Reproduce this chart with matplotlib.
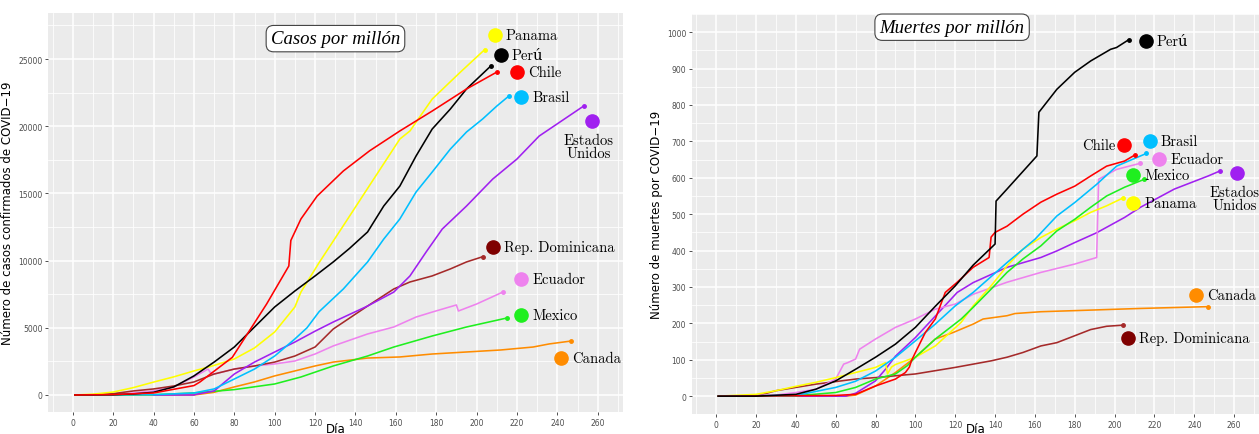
import matplotlib
matplotlib.use("Agg")
import matplotlib.pyplot as plt
import numpy as np

# ---- casos por millon (panel izquierdo) ----
chile_c_dia = [1, 20, 40, 60, 63, 79, 96, 107, 108, 113, 121, 134, 147, 162, 178, 195, 210]
chile_c = [0, 30, 150, 700, 970, 2800, 6770, 9600, 11500, 13100, 14800, 16670, 18170, 19650, 21130, 22770, 24030]
panama_c_dia = [1, 10, 20, 30, 40, 50, 60, 70, 80, 90, 100, 110, 113, 122, 134, 147, 162, 167, 178, 192, 204]
panama_c = [0, 60, 220, 550, 960, 1350, 1790, 2200, 2680, 3500, 4690, 6550, 7660, 9850, 12600, 15600, 19050, 19650, 22020, 24030, 25700]
peru_c_dia = [1, 20, 30, 40, 50, 60, 70, 80, 90, 100, 110, 120, 129, 137, 146, 154, 162, 170, 178, 187, 195, 207]
peru_c = [0, 20, 80, 200, 600, 1420, 2450, 3570, 5060, 6550, 7740, 8860, 9900, 10900, 12130, 14060, 15550, 17780, 19790, 21280, 22770, 24480]
brasil_c_dia = [1, 40, 60, 70, 80, 90, 100, 110, 116, 122, 134, 146, 154, 162, 170, 178, 187, 195, 203, 210, 216]
brasil_c = [0, 20, 150, 450, 1190, 1930, 2900, 4170, 5000, 6200, 7890, 9900, 11600, 13100, 15100, 16590, 18300, 19570, 20540, 21500, 22250]
eeuu_c_dia = [40, 60, 61, 70, 80, 90, 100, 110, 120, 129, 146, 159, 167, 175, 183, 195, 208, 220, 231, 253]
eeuu_c = [0, 0, 50, 300, 1560, 2450, 3200, 3940, 4750, 5430, 6620, 7660, 8860, 10640, 12350, 14060, 16070, 17560, 19270, 21500]
repdom_c_dia = [1, 10, 20, 30, 40, 50, 60, 70, 80, 90, 100, 110, 120, 129, 146, 159, 167, 178, 187, 195, 203]
repdom_c = [0, 20, 100, 300, 450, 670, 970, 1560, 1930, 2160, 2450, 2900, 3570, 4910, 6620, 7890, 8410, 8860, 9380, 9900, 10290]
ecuador_c_dia = [1, 20, 30, 40, 50, 60, 67, 68, 70, 80, 90, 100, 110, 120, 129, 146, 159, 170, 178, 190, 191, 200, 213]
ecuador_c = [0, 50, 150, 300, 600, 1340, 1930, 1700, 1560, 1930, 2160, 2310, 2530, 3050, 3650, 4540, 5060, 5800, 6170, 6700, 6250, 6770, 7660]
mexico_c_dia = [1, 40, 60, 80, 100, 113, 129, 146, 159, 178, 195, 215]
mexico_c = [0, 20, 150, 400, 820, 1340, 2160, 2900, 3570, 4390, 5060, 5730]
canada_c_dia = [1, 60, 70, 80, 90, 100, 110, 120, 129, 146, 162, 178, 195, 212, 228, 236, 247]
canada_c = [0, 0, 200, 600, 970, 1420, 1790, 2160, 2450, 2750, 2830, 3050, 3200, 3350, 3570, 3800, 4020]

# ---- muertes por millon (panel derecho) ----
peru_m_dia = [1, 20, 40, 50, 60, 70, 80, 90, 100, 110, 120, 129, 140, 140.5, 146, 161, 162, 171, 180, 188, 198, 201, 207]
peru_m = [0, 0, 5, 19, 42, 74, 107, 143, 189, 247, 303, 360, 418, 536, 569, 660, 780, 843, 890, 921, 953, 958, 979]
chile_m_dia = [1, 60, 70, 80, 90, 95, 97, 98, 100, 105, 110, 115, 121, 129, 137, 138, 140, 146, 154, 163, 171, 180, 188, 196, 205, 210]
chile_m = [0, 2, 5, 28, 47, 65, 80, 97, 120, 175, 212, 285, 313, 354, 381, 437, 450, 467, 500, 533, 555, 577, 605, 632, 646, 662]
brasil_m_dia = [1, 40, 60, 70, 80, 90, 100, 110, 120, 129, 146, 160, 171, 180, 191, 201, 216]
brasil_m = [0, 2, 24, 41, 69, 107, 152, 198, 248, 285, 367, 431, 495, 532, 582, 632, 667]
ecuador_m_dia = [1, 30, 40, 50, 60, 64, 66, 70, 72, 80, 90, 100, 110, 120, 129, 146, 163, 180, 191, 192, 201, 213]
ecuador_m = [0, 3, 10, 19, 47, 88, 92, 102, 129, 157, 189, 212, 239, 253, 280, 313, 340, 363, 381, 596, 623, 640]
mexico_m_dia = [1, 40, 60, 70, 80, 90, 96, 100, 110, 123, 129, 138, 146, 154, 163, 171, 180, 188, 196, 205, 215]
mexico_m = [0, 1, 10, 24, 47, 61, 84, 107, 157, 212, 244, 294, 340, 377, 413, 454, 486, 519, 550, 574, 596]
panama_m_dia = [1, 20, 30, 40, 50, 60, 70, 80, 85, 86, 88, 90, 100, 110, 123, 129, 138, 146, 154, 163, 171, 180, 188, 196, 204]
panama_m = [0, 5, 15, 27, 38, 51, 65, 79, 92, 61, 80, 87, 107, 138, 203, 248, 303, 358, 404, 436, 459, 482, 505, 523, 544]
eeuu_m_dia = [1, 65, 70, 80, 85, 90, 100, 110, 121, 129, 146, 163, 171, 180, 191, 205, 213, 230, 247, 253]
eeuu_m = [0, 0, 8, 42, 74, 110, 161, 220, 285, 312, 354, 381, 399, 422, 449, 491, 519, 569, 605, 619]
canada_m_dia = [1, 65, 70, 80, 90, 100, 110, 119, 129, 134, 146, 150, 163, 180, 213, 247]
canada_m = [0, 0, 3, 28, 65, 107, 157, 175, 198, 212, 221, 227, 232, 235, 241, 246]
repdom_m_dia = [1, 20, 30, 40, 50, 60, 70, 80, 90, 100, 110, 120, 129, 138, 146, 154, 163, 171, 180, 188, 196, 204]
repdom_m = [0, 0, 15, 24, 33, 40, 47, 51, 56, 61, 70, 79, 88, 97, 107, 120, 138, 147, 166, 183, 192, 195]

colores = {"Panama": "#FFFF00", "Perú": "#000000", "Chile": "#FF0000", "Brasil": "#00BFFF",
           "Estados\nUnidos": "#A020F0", "Rep. Dominicana": "#A52A2A", "Ecuador": "#EE82EE",
           "Mexico": "#1FEF1F", "Canada": "#FF8C00"}
color_punto = dict(colores, **{"Rep. Dominicana": "#7F0000"})

casos = [("Canada", canada_c_dia, canada_c), ("Mexico", mexico_c_dia, mexico_c),
         ("Ecuador", ecuador_c_dia, ecuador_c), ("Rep. Dominicana", repdom_c_dia, repdom_c),
         ("Estados\nUnidos", eeuu_c_dia, eeuu_c), ("Brasil", brasil_c_dia, brasil_c),
         ("Panama", panama_c_dia, panama_c), ("Perú", peru_c_dia, peru_c),
         ("Chile", chile_c_dia, chile_c)]
muertes = [("Canada", canada_m_dia, canada_m), ("Rep. Dominicana", repdom_m_dia, repdom_m),
           ("Estados\nUnidos", eeuu_m_dia, eeuu_m), ("Ecuador", ecuador_m_dia, ecuador_m),
           ("Panama", panama_m_dia, panama_m), ("Mexico", mexico_m_dia, mexico_m),
           ("Brasil", brasil_m_dia, brasil_m), ("Chile", chile_m_dia, chile_m),
           ("Perú", peru_m_dia, peru_m)]

# posiciones de las etiquetas (dia, valor, lado)
etiq_casos = {"Panama": (209, 26790, "r"), "Perú": (212, 25300, "r"), "Chile": (220, 24050, "r"),
              "Brasil": (222, 22200, "r"), "Estados\nUnidos": (257, 20390, "b"),
              "Rep. Dominicana": (208, 10990, "r"), "Ecuador": (222, 8630, "r"),
              "Mexico": (222, 5950, "r"), "Canada": (242, 2730, "r")}
etiq_muertes = {"Perú": (215.6, 976, "r"), "Chile": (204.7, 690, "l"), "Brasil": (217.7, 700, "r"),
                "Ecuador": (222.3, 651, "r"), "Mexico": (209.4, 607, "r"), "Panama": (209.2, 530, "r"),
                "Estados\nUnidos": (261.7, 613, "b"), "Canada": (240.7, 277, "r"),
                "Rep. Dominicana": (206.7, 161, "r")}

serif = ["cmr10", "DejaVu Serif"]
plt.rcParams["axes.unicode_minus"] = False

fig = plt.figure(figsize=(12.59, 4.35), dpi=100)
ax1 = fig.add_axes([0.0381, 0.0506, 0.4567, 0.917])
ax2 = fig.add_axes([0.5494, 0.046, 0.4506, 0.9195])


def panel(ax, series, etiq, ylim, ymajor, yminor, ylabel, titulo, tpos, xpad):
    ax.set_facecolor("#EBEBEB")
    for s in ax.spines.values():
        s.set_visible(False)
    ax.set_xlim(-12.3, 272.5)
    ax.set_ylim(*ylim)
    ax.set_xticks(np.arange(0, 261, 20))
    ax.set_xticks(np.arange(-10, 271, 20), minor=True)
    ax.set_yticks(ymajor)
    ax.set_yticks(yminor, minor=True)
    ax.grid(True, which="major", color="white", lw=1.1)
    ax.grid(True, which="minor", color="white", lw=0.55)
    ax.set_axisbelow(True)
    ax.tick_params(which="major", length=2.5, width=0.6, color="#333333",
                   labelsize=5.5, labelcolor="#4D4D4D", pad=1.5)
    ax.tick_params(which="minor", length=0)
    ax.set_xlabel("Día", fontsize=8.5, labelpad=xpad)
    ax.set_ylabel(ylabel, fontsize=8.5, labelpad=3)

    for nombre, d, v in series:
        c = colores[nombre]
        ax.plot(d, v, color=c, lw=1.15, solid_joinstyle="round", zorder=3)
        ax.plot(d[-1], v[-1], "o", color=c, ms=2.5, zorder=3)

    for nombre, (x, y, lado) in etiq.items():
        ax.plot(x, y, "o", color=color_punto[nombre], ms=9.5, zorder=4)
        if lado == "r":
            ax.annotate(nombre, (x, y), xytext=(8, 0), textcoords="offset points",
                        ha="left", va="center", family=serif, fontsize=10.5)
        elif lado == "l":
            ax.annotate(nombre, (x, y), xytext=(-6.5, 0), textcoords="offset points",
                        ha="right", va="center", family=serif, fontsize=10.5)
        else:
            ax.annotate(nombre, (x, y), xytext=(-2, -9), textcoords="offset points",
                        ha="center", va="top", family=serif, fontsize=10.5,
                        multialignment="center", linespacing=0.95)

    ax.text(tpos[0], tpos[1], titulo, transform=ax.transAxes, ha="center", va="center",
            family="Liberation Serif", style="italic", fontsize=13.5,
            bbox=dict(boxstyle="round,pad=0.25,rounding_size=0.4", fc="white", ec="#444444", lw=0.8))


panel(ax1, casos, etiq_casos, (-1265, 28420), np.arange(0, 25001, 5000),
      np.arange(2500, 27501, 5000), "Número de casos confirmados de COVID−19",
      "Casos por millón", (0.5, 0.936), -3)
panel(ax2, muertes, etiq_muertes, (-49, 1049), np.arange(0, 1001, 100),
      np.arange(50, 1051, 100), "Número de muertes por COVID−19",
      "Muertes por millón", (0.459, 0.967), -4.6)

fig.savefig("out.png", dpi=100)
